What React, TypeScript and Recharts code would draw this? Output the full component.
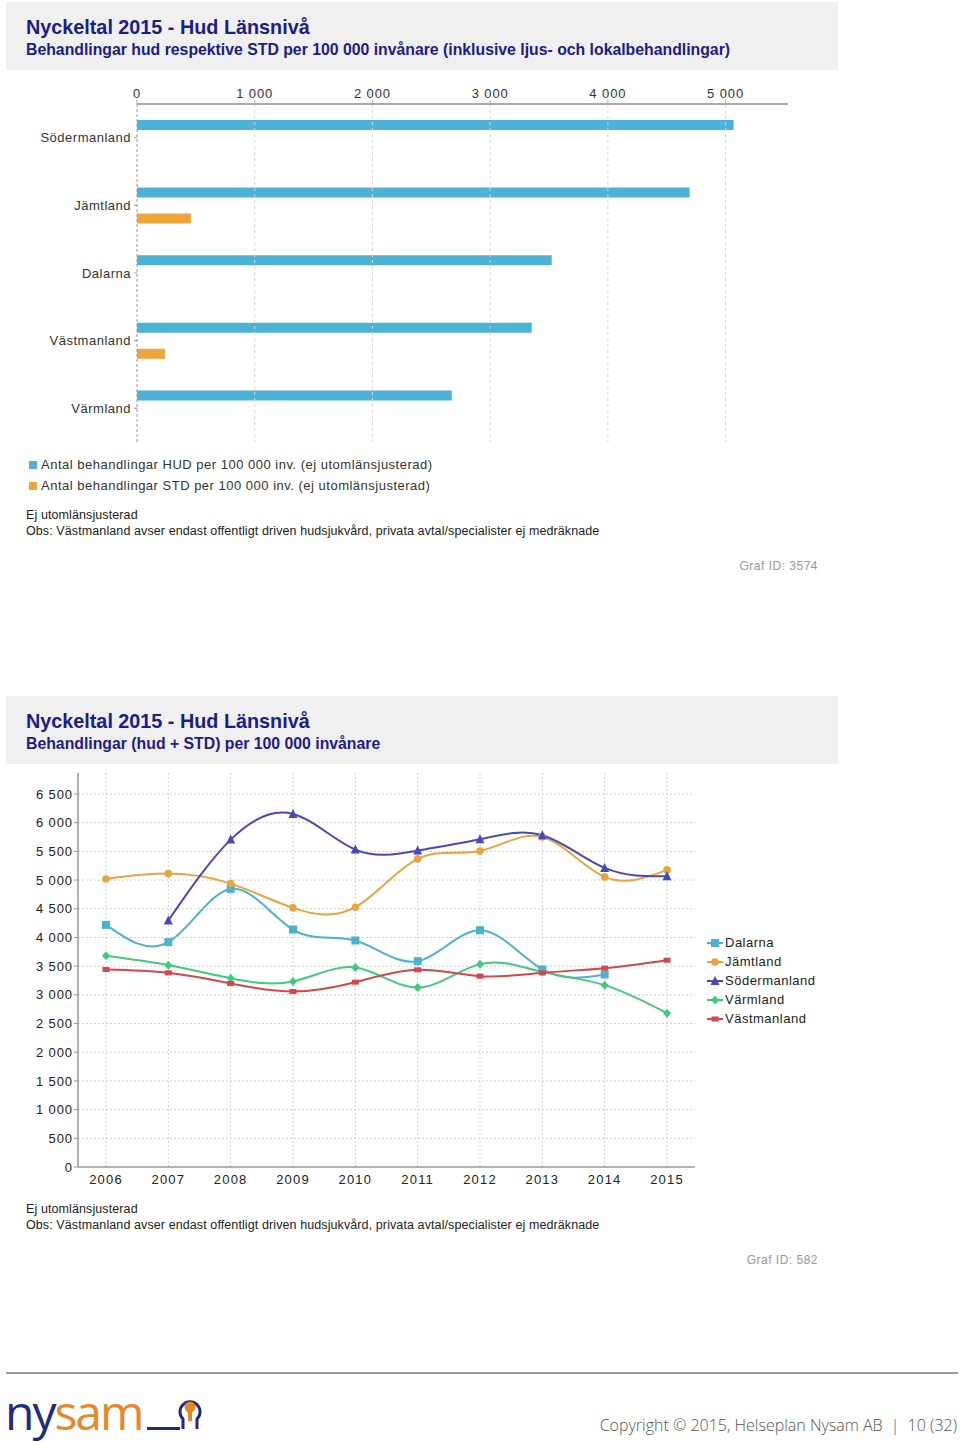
import React from "react";
import {
  BarChart, Bar, LineChart, Line, XAxis, YAxis, ReferenceLine,
} from "recharts";

// bar chart: treatments per 100 000 inhabitants, 2015
const regions = ["Södermanland", "Jämtland", "Dalarna", "Västmanland", "Värmland"];
const hudValues = [5068, 4694, 3523, 3353, 2674];
const stdValues = [null, 458, null, 238, null];
const barTicks = [0, 1000, 2000, 3000, 4000, 5000];

// line chart: hud + STD per 100 000 inhabitants
const years = ["2006", "2007", "2008", "2009", "2010", "2011", "2012", "2013", "2014", "2015"];
const dalarna = [4219, 3918, 4846, 4138, 3947, 3587, 4126, 3442, 3355, null];
const jamtland = [5020, 5113, 4939, 4515, 4527, 5369, 5508, 5752, 5055, 5177];
const sodermanland = [null, 4295, 5705, 6152, 5531, 5514, 5711, 5781, 5212, 5067];
const varmland = [3680, 3517, 3291, 3233, 3477, 3128, 3535, 3400, 3169, 2681];
const vastmanland = [3442, 3384, 3198, 3059, 3221, 3436, 3326, 3384, 3465, 3604];
const lineTicks = [0, 500, 1000, 1500, 2000, 2500, 3000, 3500, 4000, 4500, 5000, 5500, 6000, 6500];

const NAVY = "#1c1c8c";
const HUD = "#4cb3d6";
const STD = "#f0a53c";

const barData = regions.map((r, i) => ({ region: r, hud: hudValues[i], std: stdValues[i] }));
const lineData = years.map((y, i) => ({
  year: y,
  Dalarna: dalarna[i],
  Jämtland: jamtland[i],
  Södermanland: sodermanland[i],
  Värmland: varmland[i],
  Västmanland: vastmanland[i],
}));

const fmt = (v: number) => v.toLocaleString("sv-SE").replace(/\s/g, " ");

type Shape = "square" | "circle" | "triangle" | "diamond" | "rect";

const series: { key: string; color: string; shape: Shape }[] = [
  { key: "Dalarna", color: "#4bb2d0", shape: "square" },
  { key: "Jämtland", color: "#e9a53d", shape: "circle" },
  { key: "Södermanland", color: "#4848c0", shape: "triangle" },
  { key: "Värmland", color: "#3fca7e", shape: "diamond" },
  { key: "Västmanland", color: "#d8444c", shape: "rect" },
];

function marker(shape: Shape, x: number, y: number, color: string, key?: any) {
  switch (shape) {
    case "square":
      return <rect key={key} x={x - 4} y={y - 4} width={8} height={8} fill={color} />;
    case "circle":
      return <circle key={key} cx={x} cy={y} r={3.8} fill={color} />;
    case "triangle":
      return <path key={key} d={`M${x},${y - 5}L${x + 4.5},${y + 4}L${x - 4.5},${y + 4}Z`} fill={color} />;
    case "diamond":
      return <path key={key} d={`M${x},${y - 4.5}L${x + 4},${y}L${x},${y + 4.5}L${x - 4},${y}Z`} fill={color} />;
    default:
      return <rect key={key} x={x - 3.5} y={y - 2.5} width={7} height={5} fill={color} />;
  }
}

function Header({ top, title, subtitle }: { top: number; title: string; subtitle: string }) {
  return (
    <div style={{ position: "absolute", left: 6, top, width: 832, height: 68, background: "#f0f0f0", letterSpacing: 0 }}>
      <div style={{ position: "absolute", left: 20, top: 14, fontSize: 19.8, fontWeight: "bold", color: NAVY }}>{title}</div>
      <div style={{ position: "absolute", left: 20, top: 39, fontSize: 15.8, fontWeight: "bold", color: NAVY }}>{subtitle}</div>
    </div>
  );
}

function Notes({ top }: { top: number }) {
  return (
    <div style={{ position: "absolute", left: 26, top, fontSize: 12.5, color: "#222", lineHeight: "16px", letterSpacing: 0.1 }}>
      <div>Ej utomlänsjusterad</div>
      <div>Obs: Västmanland avser endast offentligt driven hudsjukvård, privata avtal/specialister ej medräknade</div>
    </div>
  );
}

export default function App() {
  return (
    <div
      style={{
        position: "absolute", left: 0, top: 0, width: 960, height: 1442, background: "#fff",
        fontFamily: "'Liberation Sans', Arial, sans-serif", letterSpacing: 0.5, overflow: "hidden",
      }}
    >
      <Header
        top={2}
        title="Nyckeltal 2015 - Hud Länsnivå"
        subtitle="Behandlingar hud respektive STD per 100 000 invånare (inklusive ljus- och lokalbehandlingar)"
      />

      <div style={{ position: "absolute", left: 0, top: 70 }}>
        <BarChart
          width={800}
          height={375}
          data={barData}
          layout="vertical"
          barSize={10}
          barGap={16}
          margin={{ top: 4, right: 12, bottom: 3, left: 0 }}
        >
          {barTicks.slice(1).map((t) => (
            <ReferenceLine key={t} x={t} stroke="#d6d6d6" strokeDasharray="3 3" />
          ))}
          <XAxis
            type="number"
            orientation="top"
            domain={[0, 5530]}
            ticks={barTicks}
            tickFormatter={fmt}
            height={30}
            tickSize={4}
            tickMargin={2}
            stroke="#aaa"
            axisLine={{ stroke: "#aaa", strokeWidth: 2 }}
            tick={{ fill: "#333", fontSize: 13, letterSpacing: 0.9 }}
          />
          <YAxis
            type="category"
            dataKey="region"
            width={137}
            tickSize={3}
            tickMargin={3}
            axisLine={{ stroke: "#999", strokeDasharray: "3 2" }}
            tickLine={{ stroke: "#999" }}
            tick={{ fill: "#333", fontSize: 13 }}
          />
          <Bar dataKey="hud" fill={HUD} isAnimationActive={false} />
          <Bar dataKey="std" fill={STD} isAnimationActive={false} />
        </BarChart>
      </div>

      <div style={{ position: "absolute", left: 29, top: 454, fontSize: 13, color: "#333", lineHeight: "21px" }}>
        <div>
          <span style={{ display: "inline-block", width: 8, height: 8, background: HUD, marginRight: 4 }} />
          Antal behandlingar HUD per 100 000 inv. (ej utomlänsjusterad)
        </div>
        <div>
          <span style={{ display: "inline-block", width: 8, height: 8, background: STD, marginRight: 4 }} />
          Antal behandlingar STD per 100 000 inv. (ej utomlänsjusterad)
        </div>
      </div>

      <Notes top={507} />
      <div style={{ position: "absolute", right: 142, top: 559, fontSize: 12, color: "#999" }}>Graf ID: 3574</div>

      <Header
        top={696}
        title="Nyckeltal 2015 - Hud Länsnivå"
        subtitle="Behandlingar (hud + STD) per 100 000 invånare"
      />

      <div style={{ position: "absolute", left: 0, top: 766 }}>
        <LineChart width={700} height={431} data={lineData} margin={{ top: 7, right: 5, bottom: 0, left: 0 }}>
          {lineTicks.slice(1).map((t) => (
            <ReferenceLine key={"h" + t} y={t} stroke="#cfcfcf" strokeDasharray="2 2" />
          ))}
          {years.map((y) => (
            <ReferenceLine key={"v" + y} x={y} stroke="#cfcfcf" strokeDasharray="2 2" />
          ))}
          <XAxis
            dataKey="year"
            padding={{ left: 28, right: 28 }}
            height={30}
            tickSize={0}
            tickMargin={8}
            axisLine={{ stroke: "#999", strokeWidth: 1.5 }}
            tick={{ fill: "#222", fontSize: 13, letterSpacing: 1.2 }}
          />
          <YAxis
            domain={[0, 6866]}
            ticks={lineTicks}
            tickFormatter={fmt}
            width={78}
            tickSize={4}
            tickMargin={1}
            axisLine={{ stroke: "#999", strokeWidth: 1.5 }}
            tickLine={{ stroke: "#999" }}
            tick={{ fill: "#222", fontSize: 13, letterSpacing: 0.9 }}
          />
          {series.map((s) => (
            <Line
              key={s.key}
              dataKey={s.key}
              type="natural"
              stroke={s.color}
              strokeWidth={2}
              isAnimationActive={false}
              dot={(p: any) =>
                p.cx == null || p.cy == null || p.value == null
                  ? <g key={p.index} />
                  : marker(s.shape, p.cx, p.cy, s.color, p.index)
              }
              activeDot={false}
            />
          ))}
        </LineChart>
      </div>

      <div style={{ position: "absolute", left: 707, top: 933, fontSize: 13, color: "#222", lineHeight: "19px" }}>
        {series.map((s) => (
          <div key={s.key} style={{ display: "flex", alignItems: "center" }}>
            <svg width={16} height={10} style={{ marginRight: 2 }}>
              <line x1={0} y1={5} x2={16} y2={5} stroke={s.color} strokeWidth={2} />
              {marker(s.shape, 8, 5, s.color)}
            </svg>
            {s.key}
          </div>
        ))}
      </div>

      <Notes top={1201} />
      <div style={{ position: "absolute", right: 142, top: 1253, fontSize: 12, color: "#999" }}>Graf ID: 582</div>

      <div style={{ position: "absolute", left: 6, top: 1372, width: 952, height: 2, background: "#9a9a9a" }} />

      <div
        style={{
          position: "absolute", left: 5, top: 1388, fontSize: 48, lineHeight: "48px", letterSpacing: -2,
          fontFamily: "'Open Sans', sans-serif", whiteSpace: "nowrap",
        }}
      >
        <span style={{ color: "#1f2a80" }}>ny</span>
        <span style={{ color: "#e8862a" }}>sam</span>
      </div>
      <svg style={{ position: "absolute", left: 140, top: 1385 }} width={80} height={57}>
        <rect x={7} y={42} width={33} height={3} fill="#1f2a80" />
        <path d="M43,44 L43,34 A10,10 0 1,1 57,34 L57,44" fill="none" stroke="#1f2a80" strokeWidth={3} />
        <circle cx={50} cy={22} r={5.5} fill="#e8862a" />
        <rect x={48} y={26} width={4} height={10} fill="#e8862a" />
      </svg>

      <div
        style={{
          position: "absolute", right: 3, top: 1414, fontSize: 16, color: "#555", letterSpacing: 0,
          fontFamily: "'Open Sans', sans-serif", fontWeight: 300,
        }}
      >
        Copyright © 2015, Helseplan Nysam AB <span style={{ margin: "0 4px" }}>|</span> 10 (32)
      </div>
    </div>
  );
}
